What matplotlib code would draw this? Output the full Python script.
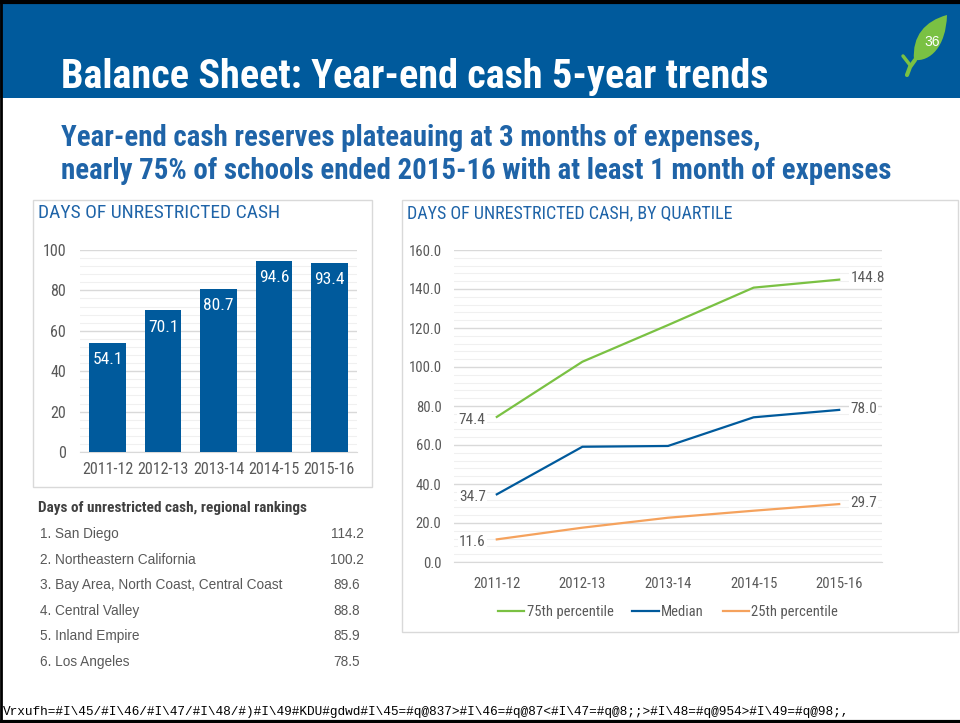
import matplotlib.pyplot as plt
from matplotlib.patches import Rectangle, PathPatch
from matplotlib.path import Path
from matplotlib.ticker import MultipleLocator
from matplotlib.lines import Line2D

# data
years = ['2011-12', '2012-13', '2013-14', '2014-15', '2015-16']
days_cash = [54.1, 70.1, 80.7, 94.6, 93.4]
p75 = [74.4, 102.7, 121.5, 140.7, 144.8]
median = [34.7, 59.1, 59.5, 74.2, 78.0]
p25 = [11.6, 17.6, 22.7, 26.3, 29.7]
regions = ['1. San Diego', '2. Northeastern California',
           '3. Bay Area, North Coast, Central Coast', '4. Central Valley',
           '5. Inland Empire', '6. Los Angeles']
region_days = [114.2, 100.2, 89.6, 88.8, 85.9, 78.5]

title = 'Balance Sheet: Year-end cash 5-year trends'
subtitle = ('Year-end cash reserves plateauing at 3 months of expenses,\n'
            'nearly 75% of schools ended 2015-16 with at least 1 month of expenses')
footer = ('Vrxufh=#I\\45/#I\\46/#I\\47/#I\\48/#)#I\\49#KDU#gdwd#I\\45=#q@837>'
          '#I\\46=#q@87<#I\\47=#q@8;;>#I\\48=#q@954>#I\\49=#q@98;,')

NARROW = ['Liberation Sans Narrow', 'Roboto Condensed', 'Liberation Sans', 'DejaVu Sans']
REG = ['Liberation Sans', 'DejaVu Sans']
BLUE = '#005A9C'
GREEN = '#7AC143'
ORANGE = '#F5A25D'
GRAY = '#595959'
TITLE_BLUE = '#1F64A8'

W, H = 960, 723
fig = plt.figure(figsize=(9.6, 7.23), dpi=100)
fig.patch.set_facecolor('white')


def box(x0, y0, x1, y1):
    # pixel box (top-left origin) -> figure fraction rect
    return [x0 / W, 1 - y1 / H, (x1 - x0) / W, (y1 - y0) / H]


def fx(x):
    return x / W


def fy(y):
    return 1 - y / H


# header band and slide border
fig.patches.append(Rectangle((0, fy(98)), 1, fy(3) - fy(98), transform=fig.transFigure,
                             facecolor=BLUE, edgecolor='none', zorder=0))
fig.add_artist(Line2D([0, 1], [fy(1.5), fy(1.5)], color='black', lw=3))
fig.add_artist(Line2D([0, 1], [fy(721.5), fy(721.5)], color='black', lw=3))
fig.add_artist(Line2D([fx(1), fx(1)], [0, 1], color='black', lw=2))

fig.text(fx(61), fy(88), title, color='white', fontsize=29, fontweight='bold',
         family=NARROW, va='baseline', ha='left')

# leaf icon
verts = [(947, 15), (925, 21), (912, 36), (914, 60),
         (930, 62), (946, 47), (947, 15)]
codes = [Path.MOVETO, Path.CURVE4, Path.CURVE4, Path.CURVE4,
         Path.CURVE4, Path.CURVE4, Path.CURVE4]
leaf = Path([(fx(a), fy(b)) for a, b in verts], codes)
fig.patches.append(PathPatch(leaf, transform=fig.transFigure, facecolor=GREEN,
                             edgecolor='none', zorder=2))
fig.add_artist(Line2D([fx(915), fx(910), fx(907)], [fy(60), fy(67), fy(75)],
                      color=GREEN, lw=3, solid_capstyle='round'))
fig.add_artist(Line2D([fx(910), fx(903)], [fy(65), fy(56)],
                      color=GREEN, lw=2.5, solid_capstyle='round'))
fig.text(fx(932), fy(42), '36', color='white', fontsize=10, family=REG,
         ha='center', va='center')

fig.text(fx(61), fy(124), subtitle, color=TITLE_BLUE, fontsize=20.8, fontweight='bold',
         family=NARROW, va='top', ha='left', linespacing=1.22)

# panel frames
for x0, y0, x1, y1 in [(33, 200, 372, 487), (402, 200, 958, 632)]:
    fig.patches.append(Rectangle((fx(x0), fy(y1)), fx(x1) - fx(x0), fy(y0) - fy(y1),
                                 transform=fig.transFigure, facecolor='none',
                                 edgecolor='#D9D9D9', lw=1))

fig.text(fx(38), fy(213), 'DAYS OF UNRESTRICTED CASH', color=TITLE_BLUE, fontsize=14,
         family=NARROW, va='center')
fig.text(fx(407), fy(213), 'DAYS OF UNRESTRICTED CASH, BY QUARTILE', color=TITLE_BLUE,
         fontsize=13, family=NARROW, va='center')


def style_axes(ax, size):
    for s in ['top', 'right', 'left']:
        ax.spines[s].set_visible(False)
    ax.spines['bottom'].set_color('#D9D9D9')
    ax.yaxis.set_minor_locator(MultipleLocator(4))
    ax.grid(axis='y', which='major', color='#D9D9D9', lw=1)
    ax.grid(axis='y', which='minor', color='#F0F0F0', lw=0.8)
    ax.set_axisbelow(True)
    ax.tick_params(length=0, which='both', colors=GRAY, labelsize=size)
    for lab in ax.get_xticklabels() + ax.get_yticklabels():
        lab.set_family(NARROW)


# bar chart
ax1 = fig.add_axes(box(80, 250, 357, 452))
ax1.bar(years, days_cash, width=0.66, color=BLUE, zorder=3)
ax1.set_ylim(0, 100)
ax1.set_xlim(-0.5, 4.5)
ax1.yaxis.set_major_locator(MultipleLocator(20))
ax1.tick_params(axis='x', pad=7)
ax1.tick_params(axis='y', pad=10)
style_axes(ax1, 11.5)
for i, v in enumerate(days_cash):
    ax1.annotate(f'{v:.1f}', (i, v), xytext=(0, -12), textcoords='offset points',
                 ha='center', va='center', color='white', fontsize=12.5,
                 family=NARROW)

# line chart
ax2 = fig.add_axes(box(454, 250, 882, 562))
x = list(range(len(years)))
ax2.plot(x, p75, color=GREEN, lw=1.6, label='75th percentile', zorder=3)
ax2.plot(x, median, color=BLUE, lw=1.6, label='Median', zorder=3)
ax2.plot(x, p25, color=ORANGE, lw=1.6, label='25th percentile', zorder=3)
ax2.set_ylim(0, 160)
ax2.set_xlim(-0.5, 4.5)
ax2.set_xticks(x)
ax2.set_xticklabels(years)
ax2.yaxis.set_major_locator(MultipleLocator(20))
ax2.yaxis.set_major_formatter(lambda v, p: f'{v:.1f}')
ax2.tick_params(axis='x', pad=11)
ax2.tick_params(axis='y', pad=9)
style_axes(ax2, 10.5)
for series in (p75, median, p25):
    ax2.annotate(f'{series[0]:.1f}', (0, series[0]), xytext=(-8, -2),
                 textcoords='offset points', ha='right', va='center', color=GRAY,
                 fontsize=11, family=NARROW,
                 bbox=dict(facecolor='white', edgecolor='none', pad=1))
    ax2.annotate(f'{series[-1]:.1f}', (4, series[-1]), xytext=(8, 1),
                 textcoords='offset points', ha='left', va='center', color=GRAY,
                 fontsize=11, family=NARROW,
                 bbox=dict(facecolor='white', edgecolor='none', pad=1))

leg = fig.legend(*ax2.get_legend_handles_labels(), loc='center',
                 bbox_to_anchor=(fx(668), fy(612)), ncol=3, frameon=False,
                 handlelength=1.8, handletextpad=0.15, columnspacing=1.3,
                 prop={'family': NARROW, 'size': 10.5})
for t in leg.get_texts():
    t.set_color(GRAY)

# regional rankings table
fig.text(fx(38), fy(508), 'Days of unrestricted cash, regional rankings', color='#404040',
         fontsize=11, fontweight='bold', family=NARROW, va='center')
for i, (name, val) in enumerate(zip(regions, region_days)):
    yy = 534 + i * 25.6
    fig.text(fx(40), fy(yy), name, color=GRAY, fontsize=9.8, family=REG, va='center')
    fig.text(fx(347), fy(yy), f'{val:.1f}', color=GRAY, fontsize=9.8, family=REG,
             va='center', ha='center')

fig.text(fx(3), fy(712), footer, color='black', fontsize=9.2,
         family=['Liberation Mono', 'DejaVu Sans Mono'], va='center')

fig.savefig('out.png', dpi=100)
